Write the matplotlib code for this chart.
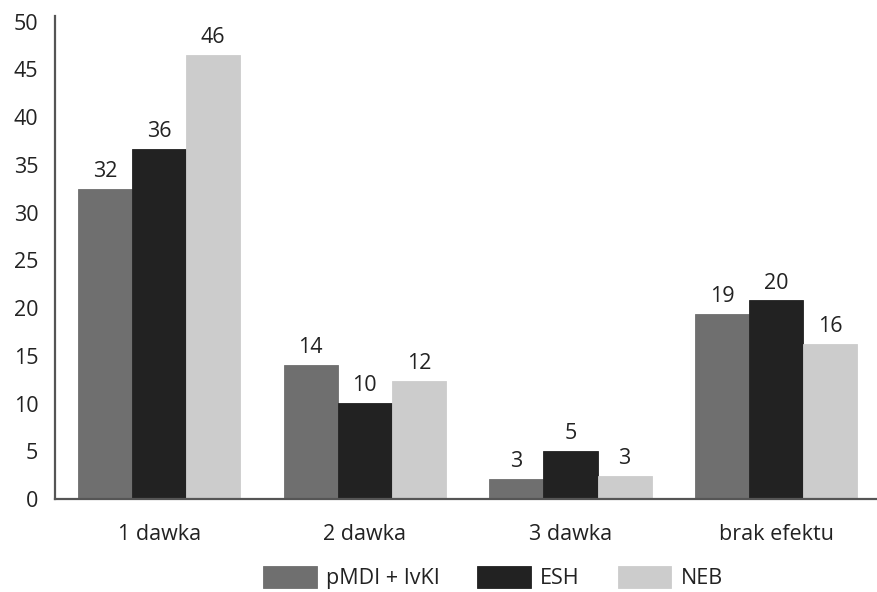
import numpy as np
import matplotlib.pyplot as plt

plt.rcParams['font.family'] = ['Open Sans', 'DejaVu Sans']

# bar heights, printed labels as shown
categories = ['1 dawka', '2 dawka', '3 dawka', 'brak efektu']
series_names = ['pMDI + IvKI', 'ESH', 'NEB']
pmdi_values = [32.5, 14.0, 2.1, 19.4]
esh_values = [36.7, 10.1, 5.0, 20.8]
neb_values = [46.5, 12.4, 2.4, 16.2]
pmdi_labels = [32, 14, 3, 19]
esh_labels = [36, 10, 5, 20]
neb_labels = [46, 12, 3, 16]
y_ticks = [0, 5, 10, 15, 20, 25, 30, 35, 40, 45, 50]

colors = ['#6f6f6f', '#222222', '#cccccc']
fs = 15.5

fig = plt.figure(figsize=(8.77, 5.92), dpi=100)
ax = fig.add_axes([55 / 877, 93 / 592, 1 - 55 / 877, (499 - 16) / 592])

x = np.arange(len(categories))
w = 0.263
all_values = [pmdi_values, esh_values, neb_values]
all_labels = [pmdi_labels, esh_labels, neb_labels]
for i, (vals, labs, name, c) in enumerate(zip(all_values, all_labels, series_names, colors)):
    bars = ax.bar(x + (i - 1) * w, vals, width=w, color=c, edgecolor=c, linewidth=0.6, label=name)
    for bar, lab in zip(bars, labs):
        ax.annotate(str(lab), xy=(bar.get_x() + bar.get_width() / 2, bar.get_height()),
                    xytext=(0, 5), textcoords='offset points', ha='center', va='bottom',
                    fontsize=fs, color='#222222')

ax.set_xlim(-0.506, 3.49)
ax.set_ylim(0, 50.6)
ax.set_yticks(y_ticks)
ax.set_xticks(x)
ax.set_xticklabels(categories)
ax.tick_params(axis='both', length=0, labelsize=fs, colors='#222222')
ax.tick_params(axis='y', pad=12)
ax.tick_params(axis='x', pad=18)
for s in ['top', 'right']:
    ax.spines[s].set_visible(False)
for s in ['left', 'bottom']:
    ax.spines[s].set_color('#555555')
    ax.spines[s].set_linewidth(1.6)

fig.legend(loc='lower center', bbox_to_anchor=(0.562, -0.028), ncol=3, frameon=False,
           fontsize=fs, handlelength=2.5, handleheight=1.2, handletextpad=0.42,
           columnspacing=1.75, labelcolor='#222222')

fig.savefig('out.png', dpi=100)
